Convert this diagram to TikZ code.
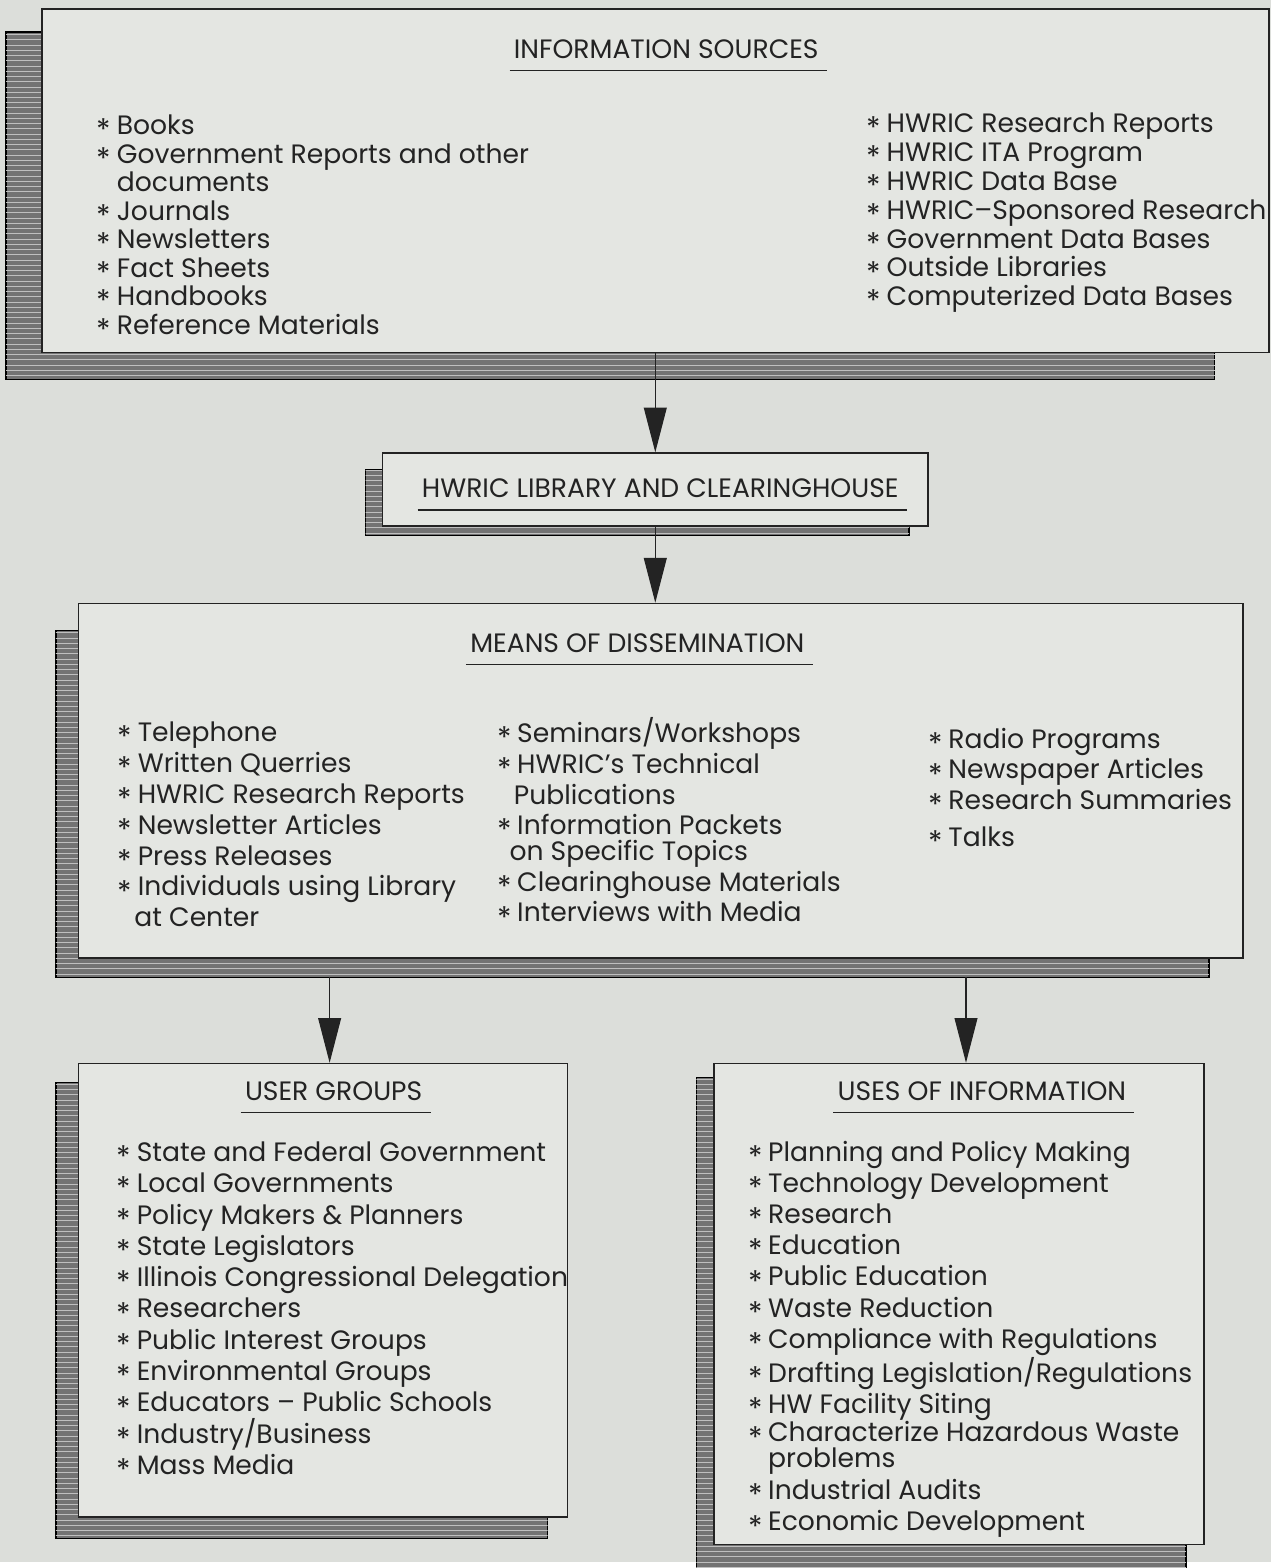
\documentclass[tikz,border=0pt]{standalone}
\usepackage{fontspec}
\setmainfont{Poppins}
\usetikzlibrary{arrows.meta,fit,calc,backgrounds,patterns}
\definecolor{paper}{RGB}{220,222,218}
\definecolor{boxfill}{RGB}{228,230,226}
\definecolor{ink}{RGB}{35,35,35}
\newcommand{\itm}{\makebox[11.4pt][l]{\raisebox{-3.5pt}{\fontsize{17}{17}\selectfont *}}}
\newcommand{\cont}{\hspace*{11.4pt}}
\newcommand{\firstln}{\rule{0pt}{13pt}}
\tikzset{
  box/.style={draw=ink, line width=0.9pt, fill=boxfill, inner sep=0pt},
  shadowbox/.style={fill=black!55, draw=black, line width=0.8pt,
    postaction={pattern=horizontal lines, pattern color=black!25}},
  ttl/.style={inner sep=0pt, anchor=base, text=ink, font=\fontsize{15.2}{17}\selectfont},
  lst/.style={inner sep=0pt, anchor=north west, align=left, text=ink},
  uline/.style={draw=ink, line width=0.8pt},
  flow/.style={draw=ink, line width=0.7pt, -{Triangle[width=0.46cm,length=0.9cm]}}
}
\begin{document}
\begin{tikzpicture}[x=0.02cm, y=-0.02cm]
  % boxes
  \node[box, fit={(42,9) (1274,354)}] (src) {};
  \node[box, fit={(384,455) (932,528)}] (lib) {};
  \node[box, fit={(79,606) (1248,962)}] (means) {};
  \node[box, fit={(79,1068) (570,1523)}] (users) {};
  \node[box, fit={(717,1068) (1209,1551)}] (uses) {};

  \begin{scope}[on background layer]
    \fill[paper] (0,0) rectangle (1276,1568);
    \draw[shadowbox] ($(src.north west)+(-35,24)$) rectangle ($(src.south east)+(-55,26)$);
    \draw[shadowbox] ($(lib.north west)+(-16,17)$) rectangle ($(lib.south east)+(-20,9)$);
    \draw[shadowbox] ($(means.north west)+(-22,28)$) rectangle ($(means.south east)+(-35,19)$);
    \draw[shadowbox] ($(users.north west)+(-22,20)$) rectangle ($(users.south east)+(-21,21)$);
    \draw[shadowbox] ($(uses.north west)+(-17,15)$) rectangle ($(uses.south east)+(-19,22)$);
  \end{scope}

  % titles
  \node[ttl] (t1) at (669,59) {INFORMATION SOURCES};
  \node[ttl] (t2) at (663,500) {HWRIC LIBRARY AND CLEARINGHOUSE};
  \node[ttl] (t3) at (640,655) {MEANS OF DISSEMINATION};
  \node[ttl] (t4) at (335,1105) {USER GROUPS};
  \node[ttl] (t5) at (986,1105) {USES OF INFORMATION};
  \foreach \t in {t1,t2,t3,t4,t5}
    \draw[uline] ($(\t.base west)+(-4,12)$) -- ($(\t.base east)+(8,12)$);

  % lists
  \node[lst, font=\fontsize{15.2}{16.3}\selectfont] (s1) at (97,112) {%
    \firstln\itm Books\\
    \itm Government Reports and other\\
    \cont documents\\
    \itm Journals\\
    \itm Newsletters\\
    \itm Fact Sheets\\
    \itm Handbooks\\
    \itm Reference Materials};
  \node[lst, font=\fontsize{15.2}{16.5}\selectfont] (s2) at (870,110) {%
    \firstln\itm HWRIC Research Reports\\
    \itm HWRIC ITA Program\\
    \itm HWRIC Data Base\\
    \itm HWRIC--Sponsored Research\\
    \itm Government Data Bases\\
    \itm Outside Libraries\\
    \itm Computerized Data Bases};
  \node[lst, font=\fontsize{15.2}{17.7}\selectfont] (m1) at (118,721) {%
    \firstln\itm Telephone\\
    \itm Written Querries\\
    \itm HWRIC Research Reports\\
    \itm Newsletter Articles\\
    \itm Press Releases\\
    \itm Individuals using Library\\
    \hspace*{9.5pt}at Center};
  \node[lst, font=\fontsize{15.2}{17.6}\selectfont] (m2) at (499,720) {%
    \firstln\itm Seminars/Workshops\\
    \itm HWRIC's Technical\\
    \hspace*{9.5pt}Publications\\
    \itm Information Packets\\[-3pt]
    \hspace*{7pt}on Specific Topics\\
    \itm Clearinghouse Materials\\
    \itm Interviews with Media};
  \node[lst, font=\fontsize{15.2}{17.6}\selectfont] (m3) at (932,728) {%
    \firstln\itm Radio Programs\\
    \itm Newspaper Articles\\
    \itm Research Summaries\\[3.5pt]
    \itm Talks};
  \node[lst, font=\fontsize{15.2}{17.9}\selectfont] (u1) at (117,1143) {%
    \firstln\itm State and Federal Government\\
    \itm Local Governments\\
    \itm Policy Makers \& Planners\\
    \itm State Legislators\\
    \itm Illinois Congressional Delegation\\
    \itm Researchers\\
    \itm Public Interest Groups\\
    \itm Environmental Groups\\
    \itm Educators -- Public Schools\\
    \itm Industry/Business\\
    \itm Mass Media};
  \node[lst, font=\fontsize{15.2}{17.8}\selectfont] (v1) at (751,1143) {%
    \firstln\itm Planning and Policy Making\\
    \itm Technology Development\\
    \itm Research\\
    \itm Education\\
    \itm Public Education\\
    \itm Waste Reduction\\
    \itm Compliance with Regulations\\
    \itm Drafting Legislation/Regulations\\
    \itm HW Facility Siting\\[-1.5pt]
    \itm Characterize Hazardous Waste\\[-3pt]
    \cont problems\\[0.5pt]
    \itm Industrial Audits\\
    \itm Economic Development};

  % flow
  \coordinate (d1) at (331,981);
  \coordinate (d2) at (970,981);
  \draw[flow] (src.south -| lib.north) -- (lib.north);
  \draw[flow] (lib.south) -- (lib.south |- means.north);
  \draw[flow] (d1) -- (d1 |- users.north);
  \draw[flow] (d2) -- (d2 |- uses.north);
\end{tikzpicture}
\end{document}
